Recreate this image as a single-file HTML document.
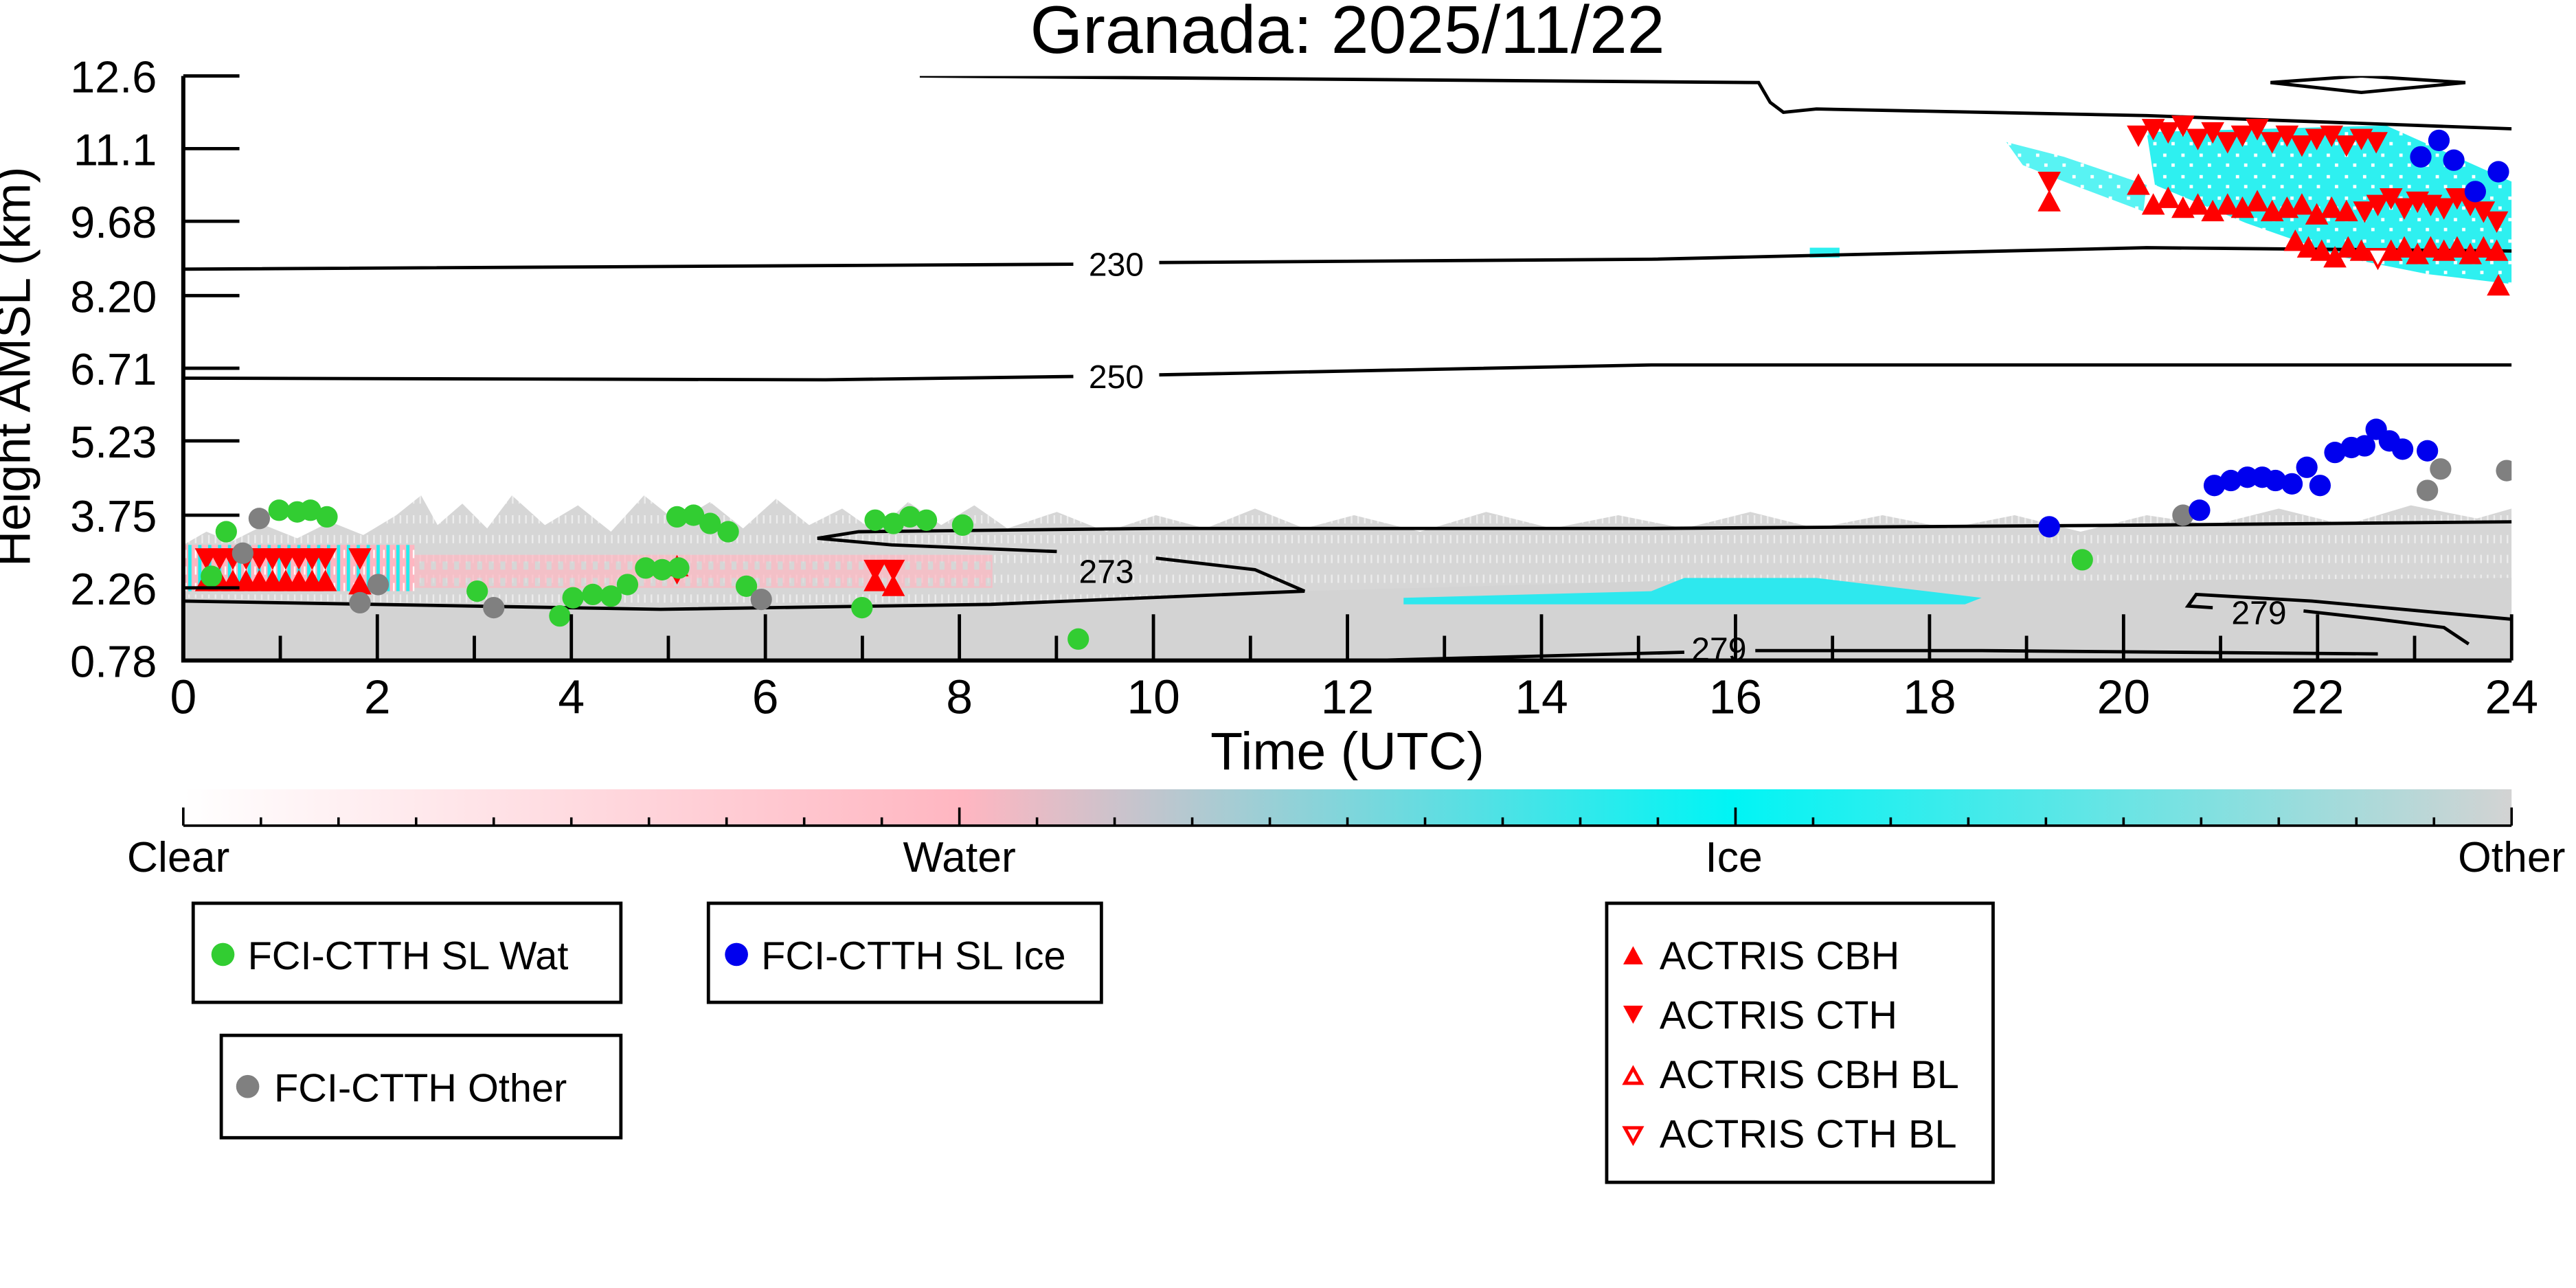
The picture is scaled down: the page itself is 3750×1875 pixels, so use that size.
<!DOCTYPE html>
<html><head><meta charset="utf-8"><style>
html,body{margin:0;padding:0;background:#fff;}
svg{display:block;}
text{font-family:"Liberation Sans",sans-serif;fill:#000;}
</style></head><body>
<svg width="3750" height="1875" viewBox="0 0 1560 780" xmlns="http://www.w3.org/2000/svg" xmlns:xlink="http://www.w3.org/1999/xlink">
<defs>
<linearGradient id="cb" x1="0" x2="1" y1="0" y2="0">
<stop offset="0" stop-color="#ffffff"/>
<stop offset="0.335" stop-color="#ffb6c1"/>
<stop offset="0.665" stop-color="#00f5f5"/>
<stop offset="1" stop-color="#d3d3d3"/>
</linearGradient>
<pattern id="icep" width="11" height="13" patternUnits="userSpaceOnUse">
<rect width="11" height="13" fill="#2ef0f0"/><rect x="1" y="2" width="2" height="2" fill="#fff"/><rect x="6" y="8" width="2" height="2" fill="#fff"/>
</pattern>
<pattern id="grayp" width="4" height="12" patternUnits="userSpaceOnUse">
<rect width="4" height="12" fill="#d6d6d6"/><rect x="2" y="0" width="1" height="5" fill="#ececec"/>
</pattern>
<pattern id="pinkp" width="7" height="10" patternUnits="userSpaceOnUse">
<rect width="7" height="10" fill="#ffb6c1"/><rect x="2" y="0" width="3" height="5" fill="#d6d6d6"/>
</pattern>
<pattern id="mixp" width="6" height="10" patternUnits="userSpaceOnUse">
<rect width="6" height="10" fill="#ffb6c1"/><rect x="0" y="0" width="2" height="10" fill="#22eeee"/><rect x="4" y="3" width="1" height="5" fill="#fff"/>
</pattern>
<path id="tu" d="M-7,6 L7,6 L0,-7Z" fill="#f00"/>
<path id="td" d="M-7,-6 L7,-6 L0,7Z" fill="#f00"/>
<circle id="g" r="6.5" fill="#32cd32"/>
<circle id="k" r="6.5" fill="#808080"/>
<circle id="b" r="6.5" fill="#0000ee"/>
<clipPath id="pc"><rect x="111" y="46" width="1410" height="354"/></clipPath>
</defs>
<text x="816" y="32" font-size="41" text-anchor="middle">Granada: 2025/11/22</text>
<g clip-path="url(#pc)">
<path d="M111,370 L111,330 L125,322 L140,328 L160,318 L180,326 L200,316 L220,324 L240,312 L255,300 L265,318 L280,305 L295,320 L310,300 L330,318 L350,306 L370,322 L390,300 L410,316 L430,304 L450,320 L470,302 L490,318 L510,308 L530,322 L550,304 L570,318 L590,306 L610,320 L640,310 L670,322 L700,312 L730,320 L760,308 L790,320 L820,312 L860,322 L900,310 L940,320 L980,312 L1020,320 L1060,310 L1100,320 L1140,312 L1180,320 L1220,312 L1260,322 L1300,312 L1340,318 L1380,308 L1420,318 L1460,306 L1500,314 L1521,308 L1521,370 Z" fill="url(#grayp)"/>
<rect x="111" y="330" width="140" height="28" fill="url(#mixp)"/>
<rect x="251" y="336" width="350" height="20" fill="url(#pinkp)" opacity="0.7"/>
<path d="M111,362 L400,369 L600,366 L790,358 L1000,352 L1200,352 L1521,350 L1521,400 L111,400 Z" fill="#d3d3d3"/>
<path d="M850,362 L1000,358 L1020,350 L1100,350 L1200,362 L1190,366 L850,366Z" fill="#2ee8ee"/>
<path d="M1300,80 L1445,76 L1521,110 L1521,172 L1470,166 L1420,156 L1360,135 L1305,112Z" fill="url(#icep)"/>
<path d="M1215,86 L1250,95 L1300,112 L1298,128 L1250,110 L1225,100Z" fill="url(#icep)" opacity="0.8"/>
<rect x="1096" y="150" width="18" height="6" fill="#2ef0f0"/>
<g fill="none" stroke="#000" stroke-width="2">
<path d="M557,46 L1065,50 L1072,62 L1080,68 L1100,66 L1300,70 L1521,78"/>
<path d="M1375,50 L1430,46 L1493,50 L1430,56 Z"/>
<path d="M111,163 L650,160 M702,159 L1000,157 L1300,150 L1521,152"/>
<path d="M111,229 L500,230 L650,228 M702,227 L1000,221 L1521,221"/>
<path d="M111,364 L400,369 L600,366 L790,358 L760,345 L700,338 M640,334 L540,330 L495,326 L520,322 L700,320 L1000,320 L1300,318 L1521,316"/>
<path d="M1521,375 L1400,364 L1330,360 L1325,367 L1340,368 M1395,370 L1440,375 L1480,380 L1495,390"/>
<path d="M830,400 L1020,395 M1063,394 L1200,394 L1440,396"/>
</g>
<g font-size="20" text-anchor="middle">
<text x="676" y="167">230</text>
<text x="676" y="235">250</text>
<text x="670" y="353">273</text>
<text x="1368" y="378">279</text>
<text x="1041" y="400">279</text>
</g>
<use xlink:href="#td" x="125" y="338"/><use xlink:href="#td" x="133" y="338"/><use xlink:href="#td" x="141" y="338"/><use xlink:href="#td" x="149" y="338"/><use xlink:href="#td" x="157" y="338"/><use xlink:href="#td" x="165" y="338"/><use xlink:href="#td" x="173" y="338"/><use xlink:href="#td" x="181" y="338"/><use xlink:href="#td" x="189" y="338"/><use xlink:href="#td" x="197" y="338"/>
<use xlink:href="#tu" x="125" y="352"/><use xlink:href="#tu" x="133" y="352"/><use xlink:href="#tu" x="141" y="352"/><use xlink:href="#tu" x="149" y="352"/><use xlink:href="#tu" x="157" y="352"/><use xlink:href="#tu" x="165" y="352"/><use xlink:href="#tu" x="173" y="352"/><use xlink:href="#tu" x="181" y="352"/><use xlink:href="#tu" x="189" y="352"/><use xlink:href="#tu" x="197" y="352"/>
<use xlink:href="#td" x="218" y="338"/><use xlink:href="#tu" x="218" y="354"/>
<use xlink:href="#tu" x="410" y="343"/><use xlink:href="#td" x="410" y="347"/>
<use xlink:href="#td" x="530" y="345"/><use xlink:href="#tu" x="530" y="352"/><use xlink:href="#td" x="541" y="345"/><use xlink:href="#tu" x="541" y="355"/>
<use xlink:href="#td" x="1241" y="110"/><use xlink:href="#tu" x="1241" y="122"/>
<use xlink:href="#td" x="1295" y="82"/><use xlink:href="#td" x="1304" y="78"/><use xlink:href="#td" x="1313" y="80"/><use xlink:href="#td" x="1322" y="76"/><use xlink:href="#td" x="1331" y="84"/><use xlink:href="#td" x="1340" y="80"/><use xlink:href="#td" x="1349" y="86"/><use xlink:href="#td" x="1358" y="82"/><use xlink:href="#td" x="1367" y="78"/><use xlink:href="#td" x="1376" y="86"/><use xlink:href="#td" x="1385" y="82"/><use xlink:href="#td" x="1394" y="88"/><use xlink:href="#td" x="1403" y="84"/><use xlink:href="#td" x="1412" y="82"/><use xlink:href="#td" x="1421" y="88"/><use xlink:href="#td" x="1430" y="84"/><use xlink:href="#td" x="1439" y="86"/>
<use xlink:href="#tu" x="1295" y="112"/><use xlink:href="#tu" x="1304" y="124"/><use xlink:href="#tu" x="1313" y="120"/><use xlink:href="#tu" x="1322" y="126"/><use xlink:href="#tu" x="1331" y="124"/><use xlink:href="#tu" x="1340" y="128"/><use xlink:href="#tu" x="1349" y="124"/><use xlink:href="#tu" x="1358" y="126"/><use xlink:href="#tu" x="1367" y="122"/><use xlink:href="#tu" x="1376" y="128"/><use xlink:href="#tu" x="1385" y="126"/><use xlink:href="#tu" x="1394" y="124"/><use xlink:href="#tu" x="1403" y="130"/><use xlink:href="#tu" x="1412" y="126"/><use xlink:href="#tu" x="1421" y="128"/>
<use xlink:href="#td" x="1432" y="128"/><use xlink:href="#td" x="1440" y="124"/><use xlink:href="#td" x="1448" y="120"/><use xlink:href="#td" x="1456" y="126"/><use xlink:href="#td" x="1464" y="122"/><use xlink:href="#td" x="1472" y="124"/><use xlink:href="#td" x="1480" y="126"/><use xlink:href="#td" x="1488" y="120"/><use xlink:href="#td" x="1496" y="124"/><use xlink:href="#td" x="1504" y="128"/><use xlink:href="#td" x="1512" y="134"/>
<use xlink:href="#tu" x="1390" y="146"/><use xlink:href="#tu" x="1398" y="150"/><use xlink:href="#tu" x="1406" y="152"/><use xlink:href="#tu" x="1414" y="156"/><use xlink:href="#tu" x="1422" y="150"/><use xlink:href="#tu" x="1430" y="152"/><use xlink:href="#tu" x="1448" y="152"/><use xlink:href="#tu" x="1456" y="150"/><use xlink:href="#tu" x="1464" y="154"/><use xlink:href="#tu" x="1472" y="150"/><use xlink:href="#tu" x="1480" y="152"/><use xlink:href="#tu" x="1488" y="150"/><use xlink:href="#tu" x="1496" y="154"/><use xlink:href="#tu" x="1504" y="150"/><use xlink:href="#tu" x="1512" y="152"/><use xlink:href="#tu" x="1513" y="173"/>
<path d="M1434,151 L1446,151 L1440,162Z" fill="#fff" stroke="#f00" stroke-width="1.5"/>
<use xlink:href="#g" x="128" y="349"/><use xlink:href="#g" x="137" y="322"/><use xlink:href="#g" x="169" y="309"/><use xlink:href="#g" x="180" y="310"/><use xlink:href="#g" x="188" y="309"/><use xlink:href="#g" x="198" y="313"/><use xlink:href="#g" x="289" y="358"/><use xlink:href="#g" x="339" y="373"/><use xlink:href="#g" x="347" y="362"/><use xlink:href="#g" x="359" y="360"/><use xlink:href="#g" x="370" y="361"/><use xlink:href="#g" x="380" y="354"/><use xlink:href="#g" x="391" y="344"/><use xlink:href="#g" x="401" y="345"/><use xlink:href="#g" x="411" y="344"/><use xlink:href="#g" x="410" y="313"/><use xlink:href="#g" x="420" y="312"/><use xlink:href="#g" x="430" y="317"/><use xlink:href="#g" x="441" y="322"/><use xlink:href="#g" x="452" y="355"/><use xlink:href="#g" x="522" y="368"/><use xlink:href="#g" x="530" y="315"/><use xlink:href="#g" x="541" y="317"/><use xlink:href="#g" x="551" y="313"/><use xlink:href="#g" x="561" y="315"/><use xlink:href="#g" x="583" y="318"/><use xlink:href="#g" x="653" y="387"/><use xlink:href="#g" x="1261" y="339"/>
<use xlink:href="#k" x="147" y="335"/><use xlink:href="#k" x="157" y="314"/><use xlink:href="#k" x="218" y="365"/><use xlink:href="#k" x="229" y="354"/><use xlink:href="#k" x="299" y="368"/><use xlink:href="#k" x="461" y="363"/><use xlink:href="#k" x="1322" y="312"/><use xlink:href="#k" x="1470" y="297"/><use xlink:href="#k" x="1478" y="284"/><use xlink:href="#k" x="1518" y="285"/>
<use xlink:href="#b" x="1241" y="319"/><use xlink:href="#b" x="1332" y="309"/><use xlink:href="#b" x="1341" y="294"/><use xlink:href="#b" x="1351" y="291"/><use xlink:href="#b" x="1361" y="289"/><use xlink:href="#b" x="1370" y="289"/><use xlink:href="#b" x="1378" y="291"/><use xlink:href="#b" x="1388" y="293"/><use xlink:href="#b" x="1397" y="283"/><use xlink:href="#b" x="1405" y="294"/><use xlink:href="#b" x="1414" y="274"/><use xlink:href="#b" x="1424" y="271"/><use xlink:href="#b" x="1432" y="270"/><use xlink:href="#b" x="1439" y="260"/><use xlink:href="#b" x="1447" y="267"/><use xlink:href="#b" x="1455" y="272"/><use xlink:href="#b" x="1470" y="273"/><use xlink:href="#b" x="1466" y="95"/><use xlink:href="#b" x="1477" y="85"/><use xlink:href="#b" x="1486" y="97"/><use xlink:href="#b" x="1499" y="116"/><use xlink:href="#b" x="1513" y="104"/>
</g>
<g stroke="#000" stroke-width="2.5" fill="none">
<path d="M111,46 L111,400 L1521,400"/>
</g>
<g stroke="#000" stroke-width="2" fill="none">
<path d="M111,46H145M111,90H145M111,134H145M111,179H145M111,223H145M111,267H145M111,312H145M111,356H145"/>
<path d="M111,400V372M169.75,400V385M228.5,400V372M287.25,400V385M346,400V372M404.75,400V385M463.5,400V372M522.25,400V385M581,400V372M639.75,400V385M698.5,400V372M757.25,400V385M816,400V372M874.75,400V385M933.5,400V372M992.25,400V385M1051,400V372M1109.75,400V385M1168.5,400V372M1227.25,400V385M1286,400V372M1344.75,400V385M1403.5,400V372M1462.25,400V385M1521,400V372"/>
</g>
<g font-size="27" text-anchor="end">
<text x="95" y="56">12.6</text><text x="95" y="100">11.1</text><text x="95" y="144">9.68</text>
<text x="95" y="189">8.20</text><text x="95" y="233">6.71</text><text x="95" y="277">5.23</text>
<text x="95" y="322">3.75</text><text x="95" y="366">2.26</text><text x="95" y="410">0.78</text>
</g>
<text transform="translate(18,222) rotate(-90)" font-size="30" text-anchor="middle">Height AMSL (km)</text>
<g font-size="29" text-anchor="middle">
<text x="111" y="432">0</text><text x="228.5" y="432">2</text><text x="346" y="432">4</text><text x="463.5" y="432">6</text><text x="581" y="432">8</text><text x="698.5" y="432">10</text><text x="816" y="432">12</text><text x="933.5" y="432">14</text><text x="1051" y="432">16</text><text x="1168.5" y="432">18</text><text x="1286" y="432">20</text><text x="1403.5" y="432">22</text><text x="1521" y="432">24</text>
</g>
<text x="816" y="466" font-size="32" text-anchor="middle">Time (UTC)</text>
<rect x="111" y="478" width="1410" height="22" fill="url(#cb)"/>
<line x1="111" y1="500" x2="1521" y2="500" stroke="#000" stroke-width="1.5"/>
<path stroke="#000" stroke-width="1.5" d="M111,500V489M158,500V495M205,500V495M252,500V495M299,500V495M346,500V495M393,500V495M440,500V495M487,500V495M534,500V495M581,500V489M628,500V495M675,500V495M722,500V495M769,500V495M816,500V495M863,500V495M910,500V495M957,500V495M1004,500V495M1051,500V489M1098,500V495M1145,500V495M1192,500V495M1239,500V495M1286,500V495M1333,500V495M1380,500V495M1427,500V495M1474,500V495M1521,500V489"/>
<g font-size="26" text-anchor="middle">
<text x="108" y="528">Clear</text><text x="581" y="528">Water</text><text x="1050" y="528">Ice</text><text x="1521" y="528">Other</text>
</g>
<g fill="#fff" stroke="#000" stroke-width="2">
<rect x="117" y="547" width="259" height="60"/>
<rect x="134" y="627" width="242" height="62"/>
<rect x="429" y="547" width="238" height="60"/>
<rect x="973" y="547" width="234" height="169"/>
</g>
<circle cx="135" cy="578" r="7" fill="#32cd32"/>
<circle cx="150" cy="658" r="7" fill="#808080"/>
<circle cx="446" cy="578" r="7" fill="#0000ee"/>
<path d="M983,584 L995,584 L989,573Z" fill="#f00"/>
<path d="M983,609 L995,609 L989,620Z" fill="#f00"/>
<path d="M984,656 L994,656 L989,647Z" fill="none" stroke="#f00" stroke-width="2"/>
<path d="M984,683 L994,683 L989,692Z" fill="none" stroke="#f00" stroke-width="2"/>
<g font-size="24">
<text x="150" y="587">FCI-CTTH SL Wat</text>
<text x="166" y="667">FCI-CTTH Other</text>
<text x="461" y="587">FCI-CTTH SL Ice</text>
<text x="1005" y="587">ACTRIS CBH</text>
<text x="1005" y="623">ACTRIS CTH</text>
<text x="1005" y="659">ACTRIS CBH BL</text>
<text x="1005" y="695">ACTRIS CTH BL</text>
</g>
</svg>
</body></html>
